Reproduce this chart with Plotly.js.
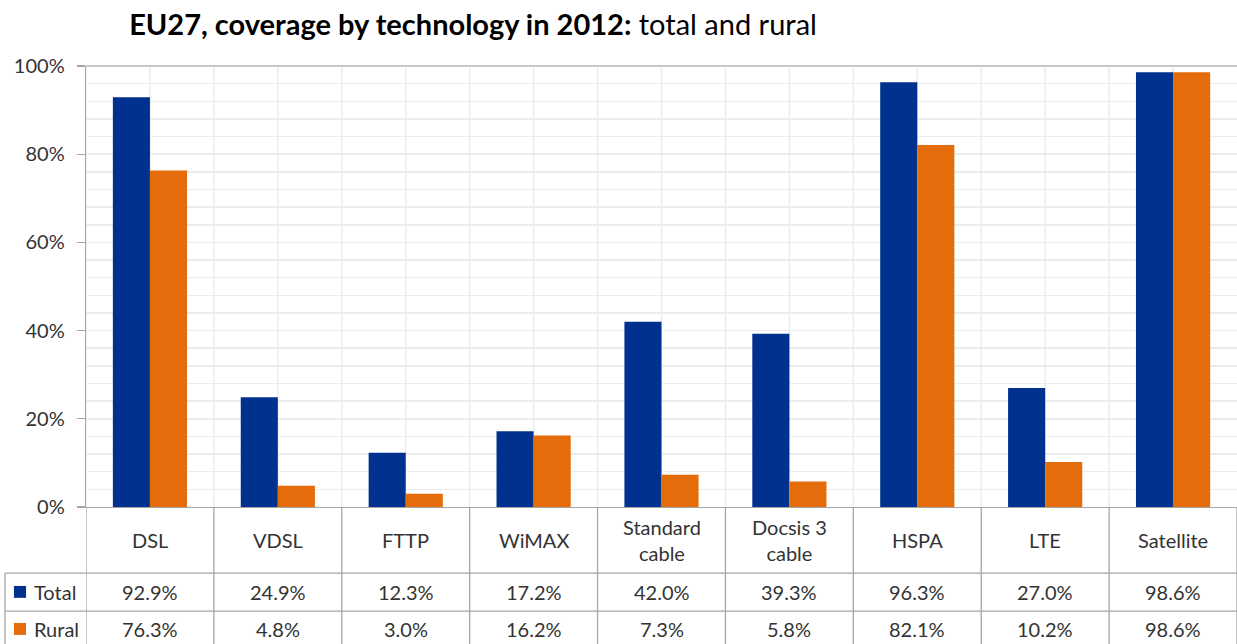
<!DOCTYPE html>
<html>
<head>
<meta charset="utf-8">
<script src="https://cdn.plot.ly/plotly-3.0.1.min.js"></script>
<style>html,body{margin:0;padding:0;background:#fff;}#chart{width:1237px;height:644px;}</style>
</head>
<body>
<div id="chart"></div>
<script>
const categories = ["DSL", "VDSL", "FTTP", "WiMAX", "Standard<br>cable", "Docsis 3<br>cable", "HSPA", "LTE", "Satellite"];
const totalValues = [92.9, 24.9, 12.3, 17.2, 42.0, 39.3, 96.3, 27.0, 98.6];
const ruralValues = [76.3, 4.8, 3.0, 16.2, 7.3, 5.8, 82.1, 10.2, 98.6];
const seriesNames = ["Total", "Rural"];
const yTickValues = [0, 20, 40, 60, 80, 100];

const BLUE = "#00318F";
const ORANGE = "#E46C0A";
const FONT = "Lato, 'Open Sans', sans-serif";
const TXT = "#333333";
const GRID = "#ececec";
const BORDER = "#a6a6a6";

const traces = [
  {type: "bar", name: seriesNames[0], x: categories, y: totalValues, marker: {color: BLUE}, hoverinfo: "x+y"},
  {type: "bar", name: seriesNames[1], x: categories, y: ruralValues, marker: {color: ORANGE}, hoverinfo: "x+y"}
];

// table geometry (paper coords relative to plot area)
const rowTop1 = -0.150, rowTop2 = -0.236, tableBottom = -0.40;
const leftEdge = -0.0704;
const shapes = [];
const annotations = [];

// vertical gridlines inside plot: at category boundaries and centres
categories.forEach((c, i) => {
  [i - 0.5, i].forEach(xv => {
    shapes.push({type: "line", xref: "x", yref: "paper", x0: xv, x1: xv, y0: 0, y1: 1,
      line: {color: GRID, width: 1.5}, layer: "below"});
  });
});
// top border of plot
shapes.push({type: "line", xref: "paper", yref: "paper", x0: 0, x1: 1, y0: 1, y1: 1, line: {color: "#c8c8c8", width: 2}});
// table vertical lines
for (let i = 0; i <= categories.length; i++) {
  shapes.push({type: "line", xref: "x", yref: "paper", x0: i - 0.5, x1: i - 0.5, y0: 0, y1: tableBottom,
    line: {color: BORDER, width: 1.3}});
}
// table horizontal lines and left border
[rowTop1, rowTop2].forEach(yv => {
  shapes.push({type: "line", xref: "paper", yref: "paper", x0: leftEdge, x1: 1, y0: yv, y1: yv, line: {color: BORDER, width: 1.3}});
});
shapes.push({type: "line", xref: "paper", yref: "paper", x0: leftEdge, x1: leftEdge, y0: rowTop1, y1: tableBottom, line: {color: BORDER, width: 1.3}});

// legend keys in table
const keyRows = [{y0: -0.179, y1: -0.206, color: BLUE, y: -0.1927}, {y0: -0.263, y1: -0.290, color: ORANGE, y: -0.2766}];
keyRows.forEach((k, j) => {
  shapes.push({type: "rect", xref: "paper", yref: "paper", x0: -0.0626, x1: -0.0521, y0: k.y0, y1: k.y1,
    fillcolor: k.color, line: {width: 0}});
  annotations.push({xref: "paper", yref: "paper", x: -0.0465, y: k.y, xanchor: "left", yanchor: "middle",
    text: seriesNames[j], showarrow: false, font: {family: FONT, size: 20, color: TXT}});
});

// category labels and values
categories.forEach((c, i) => {
  annotations.push({xref: "x", yref: "paper", x: c, y: -0.0748, xanchor: "center", yanchor: "middle",
    text: c, showarrow: false, font: {family: FONT, size: 20, color: TXT}});
  annotations.push({xref: "x", yref: "paper", x: c, y: -0.1927, xanchor: "center", yanchor: "middle",
    text: totalValues[i].toFixed(1) + "%", showarrow: false, font: {family: FONT, size: 20, color: TXT}});
  annotations.push({xref: "x", yref: "paper", x: c, y: -0.2766, xanchor: "center", yanchor: "middle",
    text: ruralValues[i].toFixed(1) + "%", showarrow: false, font: {family: FONT, size: 20, color: TXT}});
});

const layout = {
  width: 1237, height: 644,
  margin: {l: 86, r: 0, t: 66, b: 137, pad: 0},
  paper_bgcolor: "#ffffff", plot_bgcolor: "#ffffff",
  showlegend: false,
  barmode: "group", bargap: 0.42, bargroupgap: 0,
  title: {
    text: "<b>EU27, coverage by technology in 2012:</b> total and rural",
    xref: "container", yref: "container", x: 0.3824, y: 0.961, xanchor: "center", yanchor: "middle",
    font: {family: FONT, size: 29, color: "#000000"}
  },
  xaxis: {
    type: "category", showticklabels: false, ticks: "", showgrid: false,
    showline: true, linecolor: BORDER, linewidth: 1.3, zeroline: false,
    range: [-0.5, categories.length - 0.5], fixedrange: true
  },
  yaxis: {
    range: [0, 100], tickvals: yTickValues, ticktext: yTickValues.map(v => v + "%"),
    ticks: "outside", ticklen: 8, tickcolor: BORDER, tickwidth: 1.3,
    ticklabelstandoff: 8,
    showline: true, linecolor: BORDER, linewidth: 1.3,
    showgrid: true, gridcolor: GRID, gridwidth: 1.5,
    minor: {dtick: 4, tick0: 0, showgrid: true, gridcolor: GRID, gridwidth: 1.5, ticks: ""},
    zeroline: false,
    tickfont: {family: FONT, size: 20, color: TXT},
    fixedrange: true
  },
  shapes: shapes,
  annotations: annotations
};

Plotly.newPlot("chart", traces, layout, {displayModeBar: false, staticPlot: true});
</script>
</body>
</html>
